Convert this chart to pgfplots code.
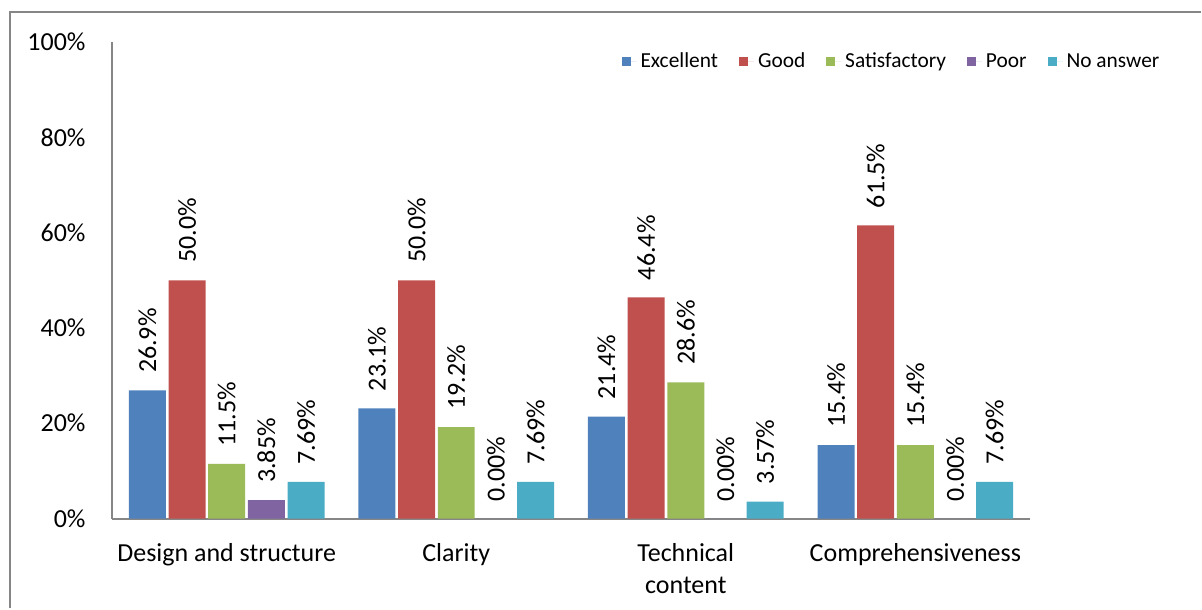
\documentclass[border=0pt]{standalone}
\usepackage{fontspec}
\setmainfont{Carlito}
\usepackage{pgfplots}
\pgfplotsset{compat=1.18}

\definecolor{cExc}{HTML}{4F81BD}
\definecolor{cGood}{HTML}{C0504D}
\definecolor{cSat}{HTML}{9BBB59}
\definecolor{cPoor}{HTML}{8064A2}
\definecolor{cNo}{HTML}{4BACC6}
\definecolor{axgray}{RGB}{134,134,134}

\begin{document}
\begin{tikzpicture}
\begin{axis}[
    name=ax,
    scale only axis,
    width=459.5bp, height=238.5bp,
    ybar=1.35bp, bar width=18.5bp,
    xmin=-0.5, xmax=3.5, ymin=0, ymax=100,
    clip=false,
    axis x line*=bottom, axis y line*=left,
    axis line style={axgray, line width=1bp},
    major tick length=0pt,
    xtick={0,1,2,3},
    xticklabels={Design and structure, Clarity, Technical\\content, Comprehensiveness},
    xticklabel style={inner sep=0pt, anchor=north, yshift=-12.3bp, align=center,
        font=\fontsize{13bp}{16bp}\selectfont},
    ytick={0,20,40,60,80,100},
    yticklabels={0\%,20\%,40\%,60\%,80\%,100\%},
    yticklabel style={inner sep=0pt, anchor=east, xshift=-13bp,
        font=\fontsize{13bp}{16bp}\selectfont},
    point meta=explicit symbolic,
    nodes near coords,
    nodes near coords style={rotate=90, anchor=west, inner sep=0pt, inner xsep=8.5bp,
        font=\fontsize{13bp}{16bp}\selectfont, text=black},
    every axis plot/.append style={draw=none},
    legend columns=5,
    legend style={draw=none, fill=none, at={(0.5546,0.9585)}, anchor=west,
        inner sep=0pt, font=\fontsize{10.7bp}{12bp}\selectfont,
        /tikz/every even column/.append style={column sep=8.5bp}},
    legend image code/.code={\fill[#1] (0bp,-2.25bp) rectangle (4.5bp,2.25bp);
        \path (0bp,0bp) -- (7.5bp,0bp);},
]
\addplot[fill=cExc] coordinates {(0,26.9) [26.9\%] (1,23.1) [23.1\%] (2,21.4) [21.4\%] (3,15.4) [15.4\%]};
\addplot[fill=cGood] coordinates {(0,50.0) [50.0\%] (1,50.0) [50.0\%] (2,46.4) [46.4\%] (3,61.5) [61.5\%]};
\addplot[fill=cSat] coordinates {(0,11.5) [11.5\%] (1,19.2) [19.2\%] (2,28.6) [28.6\%] (3,15.4) [15.4\%]};
\addplot[fill=cPoor] coordinates {(0,3.85) [3.85\%] (1,0) [0.00\%] (2,0) [0.00\%] (3,0) [0.00\%]};
\addplot[fill=cNo] coordinates {(0,7.69) [7.69\%] (1,7.69) [7.69\%] (2,3.57) [3.57\%] (3,7.69) [7.69\%]};
\legend{Excellent, Good, Satisfactory, Poor, No answer}
\end{axis}
\draw[axgray, line width=1bp] ([shift={(-51bp,-45bp)}]ax.south west) |- ([shift={(545bp,253.5bp)}]ax.south west);
\path ([shift={(-56bp,-45bp)}]ax.south west) rectangle ([shift={(545bp,259.5bp)}]ax.south west);
\end{tikzpicture}
\end{document}
